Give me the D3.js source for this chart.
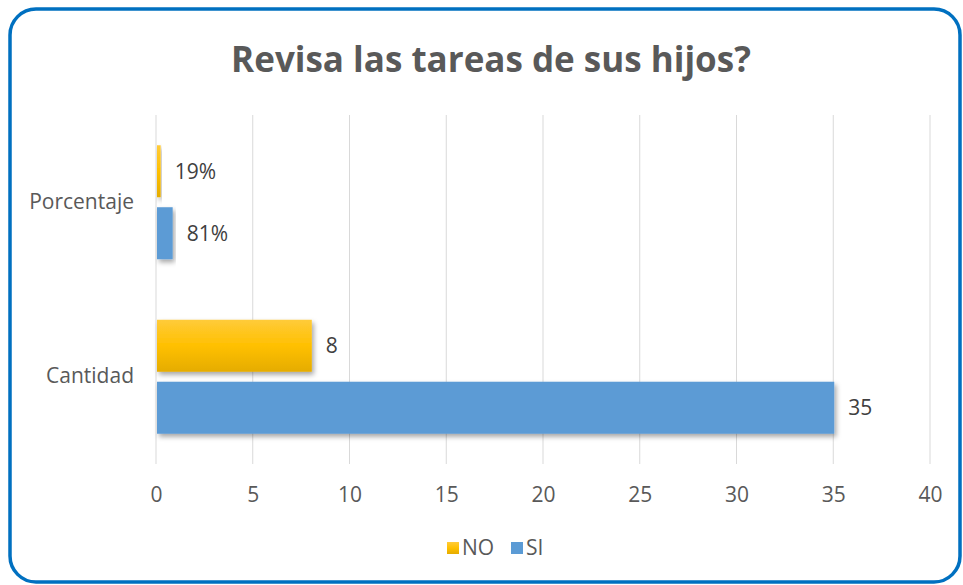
<!DOCTYPE html>
<html>
<head>
<meta charset="utf-8">
<script src="https://cdn.jsdelivr.net/npm/d3@7"></script>
<style>
  body { margin: 0; background: #fff; }
  svg { display: block; font-family: 'Open Sans', 'Liberation Sans', sans-serif; }
</style>
</head>
<body>
<script>
var title = 'Revisa las tareas de sus hijos?'
var categories = ['Porcentaje', 'Cantidad']
var seriesNames = ['NO', 'SI']
var noValues = [0.19, 8]
var siValues = [0.81, 35]
var labelsNO = ['19%', '8']
var labelsSI = ['81%', '35']
var xTicks = [0, 5, 10, 15, 20, 25, 30, 35, 40]

var width = 963
var height = 585
var font = "'Open Sans', 'Liberation Sans', sans-serif"
var svg = d3.select('body').append('svg')
  .attr('width', width)
  .attr('height', height)

var defs = svg.append('defs')
var grad = defs.append('linearGradient')
  .attr('id', 'gradNo')
  .attr('x1', 0).attr('y1', 0).attr('x2', 0).attr('y2', 1)
grad.append('stop').attr('offset', '0%').attr('stop-color', '#FFCB3A')
grad.append('stop').attr('offset', '50%').attr('stop-color', '#FFC000')
grad.append('stop').attr('offset', '100%').attr('stop-color', '#E5AC00')

var shadow = defs.append('filter')
  .attr('id', 'shadow')
  .attr('x', '-10%').attr('y', '-20%')
  .attr('width', '130%').attr('height', '160%')
shadow.append('feDropShadow')
  .attr('dx', 2).attr('dy', 3)
  .attr('stdDeviation', 2.5)
  .attr('flood-color', '#000')
  .attr('flood-opacity', 0.35)

// frame
svg.append('rect')
  .attr('x', 10)
  .attr('y', 9)
  .attr('width', 950)
  .attr('height', 573)
  .attr('rx', 26)
  .attr('ry', 26)
  .style('fill', '#fff')
  .style('stroke', '#0070C0')
  .style('stroke-width', 3.5)

svg.append('text')
  .attr('x', 491)
  .attr('y', 72)
  .attr('text-anchor', 'middle')
  .style('font-size', '35px')
  .style('font-weight', 'bold')
  .style('fill', '#595959')
  .text(title)

var x = d3.scaleLinear().domain([0, 40]).range([156, 930])
var y = d3.scaleBand().domain(categories).range([115, 464])
var sub = d3.scaleBand().domain(seriesNames)
  .range([0, y.bandwidth()])
  .paddingInner(0.161)
  .paddingOuter(0.488)

// gridlines
svg.append('g')
  .selectAll('line')
  .data(xTicks)
  .join('line')
  .attr('x1', d => x(d))
  .attr('x2', d => x(d))
  .attr('y1', 115)
  .attr('y2', 464)
  .style('stroke', '#D9D9D9')
  .style('stroke-width', 1)

var xAxis = svg.append('g')
  .attr('transform', 'translate(0,' + 487 + ')')
  .call(d3.axisBottom(x).tickValues(xTicks).tickSize(0).tickPadding(0))
xAxis.select('.domain').remove()
xAxis.selectAll('text')
  .style('font-size', '21px')
  .style('font-family', font)
  .style('fill', '#595959')

var yAxis = svg.append('g')
  .attr('transform', 'translate(134,0)')
  .call(d3.axisLeft(y).tickSize(0).tickPadding(0))
yAxis.select('.domain').remove()
yAxis.selectAll('text')
  .attr('dy', '0.32em')
  .style('font-size', '21px')
  .style('font-family', font)
  .style('fill', '#595959')

var rows = categories.map(function (c, i) {
  return [
    { cat: c, series: 'NO', value: noValues[i], label: labelsNO[i], fill: 'url(#gradNo)' },
    { cat: c, series: 'SI', value: siValues[i], label: labelsSI[i], fill: '#5B9BD5' }
  ]
}).flat()

svg.append('g')
  .selectAll('rect')
  .data(rows)
  .join('rect')
  .attr('x', x(0) + 1)
  .attr('y', d => y(d.cat) + sub(d.series))
  .attr('width', d => x(d.value) - x(0))
  .attr('height', sub.bandwidth())
  .attr('filter', 'url(#shadow)')
  .style('fill', d => d.fill)

svg.append('g')
  .selectAll('text')
  .data(rows)
  .join('text')
  .attr('x', d => x(d.value) + 15)
  .attr('y', d => y(d.cat) + sub(d.series) + sub.bandwidth() / 2)
  .attr('dy', '0.35em')
  .style('font-size', '21px')
  .style('fill', '#404040')
  .text(d => d.label)

// legend
var legend = svg.append('g').attr('transform', 'translate(447,548)')
var items = [
  { name: 'NO', fill: 'url(#gradNo)', x: 0 },
  { name: 'SI', fill: '#5B9BD5', x: 64 }
]
var li = legend.selectAll('g').data(items).join('g')
  .attr('transform', d => 'translate(' + d.x + ',0)')
li.append('rect')
  .attr('x', 0).attr('y', -6)
  .attr('width', 12).attr('height', 12)
  .style('fill', d => d.fill)
li.append('text')
  .attr('x', 15)
  .attr('dy', '0.35em')
  .style('font-size', '21px')
  .style('fill', '#595959')
  .text(d => d.name)
</script>
</body>
</html>
